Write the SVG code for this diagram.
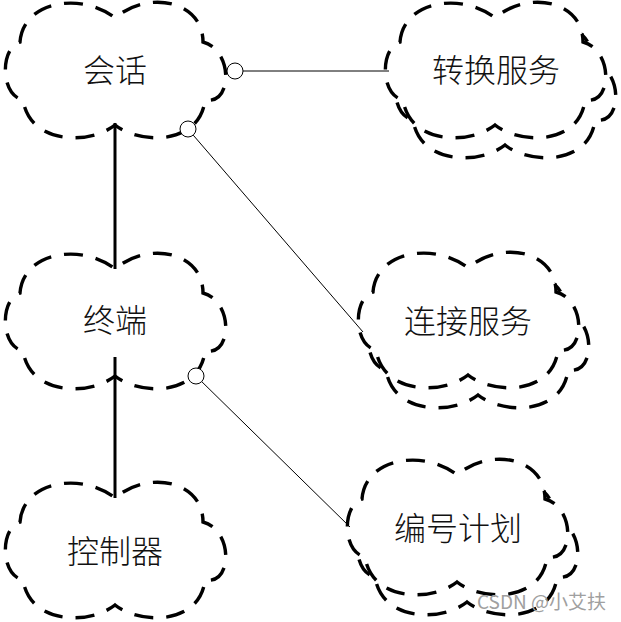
<svg xmlns="http://www.w3.org/2000/svg" xmlns:xlink="http://www.w3.org/1999/xlink" width="621" height="622" viewBox="0 0 621 622">
<style>
.cloud{fill:#fff;stroke:#000;stroke-width:3.4;stroke-dasharray:19 13;stroke-linecap:butt}
.lbl{font-family:"Noto Sans CJK SC","Noto Sans",sans-serif;font-size:32px;font-weight:300;fill:#111;text-anchor:middle;dominant-baseline:central}
.thick{stroke:#000;stroke-width:3;fill:none}
.thin{stroke:#000;stroke-width:1;fill:none}
.ring{stroke:#000;stroke-width:1;fill:#fff}
.wm{font-family:"Noto Sans CJK SC","Liberation Sans",sans-serif;font-size:19px;fill:#a0a0a0;text-anchor:end}
</style>
<defs>
<path id="cloud" d="M -95,-28 C -92,-70 -32,-78 0,-52 C 32,-80 88,-70 88,-28 C 118,-20 118,35 90,30 C 85,75 25,75 0,55 C -25,75 -85,75 -92,30 C -115,25 -115,-22 -95,-28 Z"/>
</defs>
<rect width="621" height="622" fill="#fff"/>
<g id="n-huihua">
<use xlink:href="#cloud" class="cloud" transform="translate(115,70)"/>
<text class="lbl" x="115" y="68">会话</text>
</g>
<g id="n-zhongduan">
<use xlink:href="#cloud" class="cloud" transform="translate(115,321)"/>
<text class="lbl" x="115" y="318">终端</text>
</g>
<g id="n-kongzhiqi">
<use xlink:href="#cloud" class="cloud" transform="translate(115,550)"/>
<text class="lbl" x="115" y="549">控制器</text>
</g>
<g id="n-zhuanhuan">
<use xlink:href="#cloud" class="cloud" transform="translate(505,90)"/>
<use xlink:href="#cloud" class="cloud" transform="translate(495,70)"/>
<text class="lbl" x="496" y="68">转换服务</text>
</g>
<g id="n-lianjie">
<use xlink:href="#cloud" class="cloud" transform="translate(478,340)"/>
<use xlink:href="#cloud" class="cloud" transform="translate(468,320)"/>
<text class="lbl" x="468" y="319">连接服务</text>
</g>
<g id="n-bianhao">
<use xlink:href="#cloud" class="cloud" transform="translate(467,547)"/>
<use xlink:href="#cloud" class="cloud" transform="translate(457,527)"/>
<text class="lbl" x="458" y="526">编号计划</text>
</g>
<g id="connectors">
<line class="thick" x1="115" y1="123" x2="115" y2="269"/>
<line class="thick" x1="115" y1="357" x2="115" y2="498"/>
<line class="thin" x1="243" y1="71" x2="389" y2="71"/>
<circle class="ring" cx="235" cy="71" r="8"/>
<line class="thin" x1="193.2" y1="135.1" x2="363" y2="332"/>
<circle class="ring" cx="188" cy="129" r="8"/>
<line class="thin" x1="201.7" y1="381.6" x2="350" y2="527"/>
<circle class="ring" cx="196" cy="376" r="8"/>
</g>
<text class="wm" x="606" y="609">CSDN @小艾扶</text>
</svg>
